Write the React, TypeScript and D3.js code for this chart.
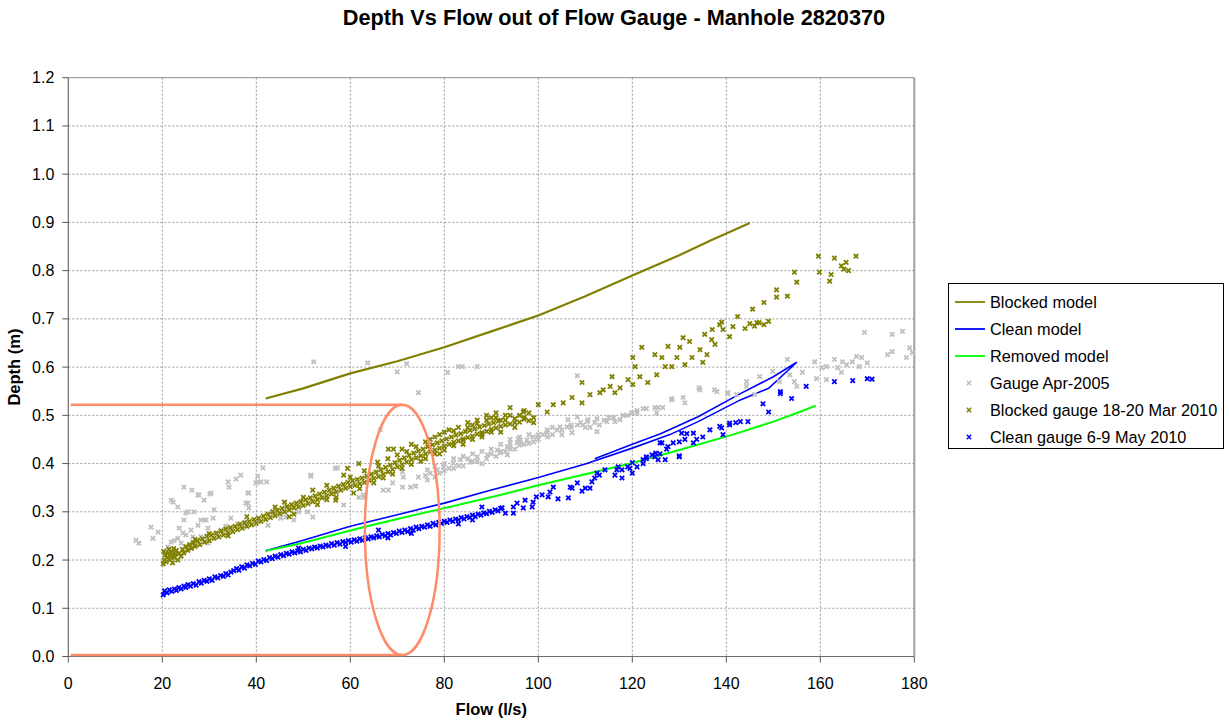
import React from "react";
import * as d3 from "d3";

type P = [number, number];

const titleText = "Depth Vs Flow out of Flow Gauge - Manhole 2820370";
const xTitle = "Flow (l/s)";
const yTitle = "Depth (m)";
const xTicks = [0, 20, 40, 60, 80, 100, 120, 140, 160, 180];
const yTicks = [0, 0.1, 0.2, 0.3, 0.4, 0.5, 0.6, 0.7, 0.8, 0.9, 1.0, 1.1, 1.2];

const blockedModel: P[] = [
  [42, 0.535], [50, 0.556], [60, 0.587], [70, 0.612], [80, 0.641], [90, 0.674],
  [100, 0.707], [110, 0.747], [120, 0.79], [130, 0.832], [137, 0.864], [145, 0.899],
];

const cleanModel: P[] = [
  [42, 0.219], [50, 0.241], [60, 0.27], [70, 0.294], [80, 0.318], [90, 0.345],
  [100, 0.371], [110, 0.399], [120, 0.432], [128, 0.46], [134, 0.487], [143, 0.532],
  [149, 0.556], [155, 0.61], [150, 0.58], [143, 0.545], [134, 0.497], [126, 0.462],
  [120, 0.44], [112, 0.41],
];

const removedModel: P[] = [
  [42, 0.219], [50, 0.236], [62.7, 0.268], [70, 0.285], [78.4, 0.304], [91.9, 0.335],
  [100, 0.355], [110, 0.378], [120, 0.401], [130, 0.428], [141.4, 0.46], [150, 0.487],
  [155.6, 0.507], [159, 0.52],
];

const gaugeApr2005: P[] = [
  [14.4, 0.241], [15, 0.235], [17.6, 0.268], [18, 0.245], [19.1, 0.258], [22.3, 0.32], [23.3, 0.31],
  [24.6, 0.351], [26.3, 0.345], [27.8, 0.335], [28.9, 0.324], [30.1, 0.337], [31, 0.304], [34, 0.362],
  [34.2, 0.351], [35.7, 0.368], [36.7, 0.376], [38.4, 0.339], [37.8, 0.318], [38.4, 0.308], [40.3, 0.374],
  [41.4, 0.391], [39.9, 0.36], [41, 0.362], [42.2, 0.362], [51.6, 0.376], [25.5, 0.3], [26.7, 0.3],
  [24.6, 0.283], [28.2, 0.283], [29.3, 0.283], [30.8, 0.287], [34.6, 0.287], [23.6, 0.266], [24.4, 0.256],
  [26.1, 0.262], [27.6, 0.272], [29.7, 0.266], [23.3, 0.245], [21.9, 0.237], [25, 0.252], [26.5, 0.248],
  [28.2, 0.248], [29.9, 0.252], [32.5, 0.262], [21.2, 0.227], [29.7, 0.235], [37.8, 0.279], [40.3, 0.283],
  [42.5, 0.272], [45.2, 0.287], [48, 0.283], [50.9, 0.3], [52, 0.289], [21.9, 0.324], [27.6, 0.335],
  [30.4, 0.339], [38.2, 0.339], [25, 0.297], [28.9, 0.283], [38.2, 0.318], [40.3, 0.362], [46.3, 0.289],
  [22.5, 0.24], [24, 0.235], [27, 0.232], [31.5, 0.255], [33.5, 0.27], [36, 0.275], [43.5, 0.3], [47, 0.31],
  [49, 0.3], [52.2, 0.611], [63.7, 0.609], [70, 0.59], [72, 0.607], [74.5, 0.547], [51.6, 0.374],
  [57.3, 0.391], [56.5, 0.339], [58.6, 0.314], [61.8, 0.33], [62.8, 0.335], [68.1, 0.345], [66.4, 0.47],
  [69, 0.36], [71.3, 0.372], [72.8, 0.351], [73.9, 0.353], [74.5, 0.372], [76.4, 0.366], [71.1, 0.383],
  [76.4, 0.387], [78.5, 0.387], [79.8, 0.393], [81.9, 0.401], [83.4, 0.408], [85.5, 0.403], [87, 0.414],
  [89.2, 0.418], [91.3, 0.428], [93.4, 0.435], [95.5, 0.443], [97.6, 0.449], [95.7, 0.451], [80.7, 0.589],
  [83, 0.601], [83.8, 0.601], [87, 0.601], [56.8, 0.39], [62.9, 0.33], [67, 0.345], [71.1, 0.351],
  [91.9, 0.422], [94, 0.435], [96.2, 0.443], [98.9, 0.455], [101.9, 0.464], [104, 0.47], [106.1, 0.476],
  [108.3, 0.48], [110.4, 0.487], [112.5, 0.466], [114.6, 0.487], [116.3, 0.487], [117.4, 0.491],
  [119.9, 0.505], [122.3, 0.514], [124.8, 0.516], [126.5, 0.516], [128.4, 0.535], [130.8, 0.537],
  [131.2, 0.526], [134.4, 0.553], [138, 0.549], [140.3, 0.545], [108.3, 0.582], [110.6, 0.491],
  [106.3, 0.491], [142.2, 0.543], [146, 0.543], [144.3, 0.56], [128.4, 0.532], [125.5, 0.516],
  [123, 0.514], [125.2, 0.505], [121, 0.505], [120, 0.505], [112.5, 0.493], [108.3, 0.497],
  [104.6, 0.476], [101.9, 0.47], [99.8, 0.455], [96.2, 0.449], [94, 0.443], [93.4, 0.418], [109.5, 0.48],
  [107.2, 0.464], [77, 0.38], [78, 0.395], [79, 0.38], [80, 0.4], [81, 0.39], [82, 0.41], [83, 0.395],
  [84, 0.415], [85, 0.41], [86, 0.42], [87, 0.405], [88, 0.425], [89, 0.41], [90, 0.43], [91, 0.415],
  [92, 0.44], [93, 0.425], [94, 0.45], [95, 0.43], [96, 0.455], [97, 0.44], [98, 0.46], [99, 0.445],
  [100, 0.46], [102, 0.455], [103, 0.475], [105, 0.46], [107, 0.48], [111, 0.475], [113, 0.48],
  [115, 0.495], [118, 0.5], [134.2, 0.557], [137.5, 0.553], [140.3, 0.547], [144.3, 0.57], [147.1, 0.58],
  [149.9, 0.591], [151.3, 0.57], [153, 0.616], [153.5, 0.584], [154.5, 0.57], [155, 0.56], [156.2, 0.589],
  [158.8, 0.611], [159.2, 0.576], [161.3, 0.574], [160.3, 0.599], [161.3, 0.601], [163, 0.616],
  [163.7, 0.599], [164.7, 0.611], [165.6, 0.605], [166.8, 0.611], [167.7, 0.622], [168.8, 0.62],
  [170, 0.609], [168.3, 0.601], [169.4, 0.672], [175.3, 0.668], [177.5, 0.674], [174.3, 0.626],
  [175.3, 0.632], [178.3, 0.62], [179.6, 0.63], [164.5, 0.589], [179, 0.64],
  [76, 0.375], [78, 0.372], [80, 0.385], [82, 0.39], [84, 0.395], [86, 0.405], [88, 0.4], [90, 0.42],
  [92, 0.425], [94, 0.43], [96, 0.438], [98, 0.442], [100, 0.45], [101, 0.46], [103, 0.46], [105, 0.47],
  [107, 0.475], [109, 0.485], [110, 0.475], [112, 0.485], [114, 0.49], [116, 0.495], [119, 0.5], [121, 0.51],
];

const blockedGauge: P[] = [
  [20.2, 0.192], [20.4, 0.2], [20.6, 0.21], [20.3, 0.218], [20.8, 0.196], [21, 0.205], [21.2, 0.214],
  [21.4, 0.222], [21.6, 0.2], [21.8, 0.208], [22, 0.216], [22.2, 0.194], [22.4, 0.224], [22.6, 0.205],
  [22.8, 0.212], [23, 0.22], [23.3, 0.2], [23.6, 0.214], [24, 0.208], [24.3, 0.222], [24.6, 0.215],
  [25, 0.228], [25.4, 0.22], [25.8, 0.232], [26.2, 0.224], [26.6, 0.236], [27, 0.228], [27.5, 0.24],
  [28, 0.232], [28.5, 0.244], [29, 0.237], [29.5, 0.249], [30, 0.24], [30.5, 0.252], [31, 0.245],
  [31.5, 0.256], [32, 0.248], [32.5, 0.26], [33, 0.252], [33.5, 0.264], [34, 0.256], [34.5, 0.267],
  [35, 0.259], [35.5, 0.27], [36, 0.263], [36.5, 0.274], [37, 0.266], [37.5, 0.277], [38, 0.27],
  [38.5, 0.28], [39, 0.273], [39.5, 0.284], [40, 0.276], [40.5, 0.287], [41, 0.28], [41.5, 0.291],
  [42, 0.284], [42.5, 0.295], [43, 0.288], [43.5, 0.3], [44, 0.292], [44.5, 0.303], [45, 0.296],
  [45.5, 0.307], [46, 0.3], [46.5, 0.311], [47, 0.304], [47.5, 0.315], [48, 0.308], [48.5, 0.318],
  [49, 0.31], [49.5, 0.321], [50, 0.313], [50.5, 0.325], [51, 0.317], [51.5, 0.329], [52, 0.321],
  [52.5, 0.333], [53, 0.325], [53.5, 0.337], [54, 0.329], [54.5, 0.341], [55, 0.333], [55.5, 0.345],
  [56, 0.337], [56.5, 0.349], [57, 0.341], [57.5, 0.353], [58, 0.345], [58.5, 0.357], [59, 0.349],
  [59.5, 0.361], [60, 0.352], [60.5, 0.364], [61, 0.355], [61.5, 0.367], [62, 0.358], [62.5, 0.37],
  [63, 0.361], [63.5, 0.374], [64, 0.365], [64.5, 0.378], [65, 0.369], [65.5, 0.382], [66, 0.373],
  [66.5, 0.387], [67, 0.378], [67.5, 0.392], [68, 0.383], [68.5, 0.397], [69, 0.388], [69.5, 0.402],
  [70, 0.393], [70.5, 0.407], [71, 0.398], [71.5, 0.412], [72, 0.403], [72.5, 0.417], [73, 0.408],
  [73.5, 0.422], [74, 0.412], [74.5, 0.426], [75, 0.416], [75.5, 0.43], [76, 0.42], [76.5, 0.435],
  [77, 0.424], [77.5, 0.439], [78, 0.428], [78.5, 0.443], [79, 0.432], [79.5, 0.447], [80, 0.436],
  [80.5, 0.451], [81, 0.44], [81.5, 0.455], [82, 0.444], [82.5, 0.459], [83, 0.447], [83.5, 0.462],
  [84, 0.451], [84.5, 0.466], [85, 0.454], [85.5, 0.469], [86, 0.457], [86.5, 0.472], [87, 0.461],
  [87.5, 0.476], [88, 0.464], [88.5, 0.479], [89, 0.467], [89.5, 0.482], [90, 0.471], [90.5, 0.485],
  [91, 0.474], [91.5, 0.488], [92, 0.477], [93, 0.49], [94, 0.482], [95, 0.493], [96, 0.486],
  [97, 0.496], [98, 0.489], [68.1, 0.43], [69.2, 0.43], [65.8, 0.403], [61.8, 0.4], [59.4, 0.39],
  [58.6, 0.376], [56.9, 0.324], [60.7, 0.339], [94, 0.516], [96.8, 0.507], [100, 0.522], [101.9, 0.507],
  [103.2, 0.522], [105.3, 0.526], [107.2, 0.537], [109.3, 0.568], [109.3, 0.526], [111, 0.543],
  [113.1, 0.547], [113.8, 0.553], [115.3, 0.56], [116.3, 0.547], [117.4, 0.557], [115.7, 0.58],
  [119.1, 0.574], [120.1, 0.62], [120.6, 0.601], [120.1, 0.564], [121.6, 0.58], [122, 0.641],
  [123.3, 0.568], [124.8, 0.626], [125.2, 0.584], [126.3, 0.62], [127, 0.601], [127.6, 0.643],
  [128.4, 0.601], [129.5, 0.62], [130.1, 0.641], [130.8, 0.661], [131.2, 0.605], [132.2, 0.653],
  [132.7, 0.62], [134.4, 0.636], [135.4, 0.668], [135.9, 0.626], [136.9, 0.657], [137.6, 0.647],
  [138.6, 0.688], [139.3, 0.678], [140.7, 0.663], [141.4, 0.684], [142.4, 0.705], [139, 0.693],
  [137, 0.678], [135, 0.61], [144, 0.68], [145, 0.69], [146, 0.685], [147, 0.692], [148, 0.688],
  [149, 0.695], [146.5, 0.692], [145.6, 0.72], [148, 0.734], [150.7, 0.76], [150.7, 0.745], [153, 0.747],
  [155, 0.776], [154.5, 0.797], [159.6, 0.83], [159.8, 0.797], [162.3, 0.792], [162, 0.778],
  [165.5, 0.817], [165, 0.803], [167.6, 0.83], [164.5, 0.81], [166, 0.8], [163, 0.826], [71, 0.43],
  [73, 0.44], [75, 0.405], [76, 0.445], [78, 0.455], [79, 0.42], [82, 0.468], [84, 0.44], [86, 0.48],
  [88, 0.455], [90, 0.495], [92, 0.465], [93, 0.5], [95, 0.475], [97, 0.51], [99, 0.485], [80, 0.465],
  [85, 0.475], [87, 0.49], [89, 0.5], [91, 0.505], [44, 0.31], [47, 0.29], [52, 0.345], [55, 0.325],
  [38, 0.29], [34, 0.25], [30, 0.255], [27, 0.243],
  [46, 0.32], [48, 0.295], [50, 0.33], [53, 0.315], [55, 0.355], [57, 0.33], [60, 0.372], [62, 0.348],
  [63, 0.385], [65, 0.36], [66, 0.395], [67, 0.37], [68, 0.41], [69, 0.378], [70, 0.418], [71, 0.39],
  [72, 0.425], [73, 0.398], [74, 0.435], [76, 0.41], [77, 0.45], [78, 0.42], [79, 0.46], [80, 0.428],
  [81, 0.47], [82, 0.437], [83, 0.475], [84, 0.448], [85, 0.485], [86, 0.45], [87, 0.483], [88, 0.46],
  [89, 0.49], [90, 0.465], [91, 0.495], [92, 0.49], [93, 0.48], [94, 0.5], [95, 0.485], [96, 0.5],
  [97, 0.492], [98, 0.505], [99, 0.495],
];

const cleanGauge: P[] = [
  [20.2, 0.128], [20.5, 0.136], [21, 0.132], [21.5, 0.138], [22, 0.135], [22.6, 0.14], [23, 0.137],
  [23.5, 0.143], [24, 0.14], [24.6, 0.146], [25, 0.143], [25.5, 0.149], [26, 0.146], [26.6, 0.151],
  [27.2, 0.148], [27.8, 0.155], [28.3, 0.152], [28.9, 0.158], [29.5, 0.156], [30, 0.161], [30.6, 0.158],
  [31.2, 0.165], [31.8, 0.163], [32.4, 0.168], [33, 0.166], [33.5, 0.172], [34, 0.169], [34.6, 0.175],
  [35.2, 0.178], [35.8, 0.182], [36.3, 0.179], [36.9, 0.186], [37.5, 0.183], [38, 0.19], [38.6, 0.188],
  [39.2, 0.193], [39.8, 0.191], [40.4, 0.198], [41, 0.196], [41.6, 0.201], [42.2, 0.199], [42.8, 0.205],
  [43.4, 0.203], [44, 0.208], [44.6, 0.206], [45.2, 0.211], [45.8, 0.209], [46.4, 0.214], [47, 0.212],
  [47.6, 0.217], [48.2, 0.215], [48.8, 0.219], [49.4, 0.217], [50, 0.222], [50.6, 0.22], [51.2, 0.225],
  [51.8, 0.223], [52.4, 0.227], [53, 0.225], [53.6, 0.229], [54.2, 0.227], [54.8, 0.231], [55.4, 0.229],
  [56, 0.234], [56.6, 0.231], [57.2, 0.236], [57.8, 0.233], [58.4, 0.238], [59, 0.236], [59.6, 0.24],
  [60.2, 0.237], [60.8, 0.242], [61.4, 0.239], [62, 0.244], [62.6, 0.241], [63.2, 0.246], [63.8, 0.244],
  [64.4, 0.248], [65, 0.246], [65.6, 0.25], [66.2, 0.248], [66.8, 0.253], [67.4, 0.25], [68, 0.255],
  [68.6, 0.252], [69.2, 0.257], [69.8, 0.255], [70.4, 0.26], [71, 0.257], [71.6, 0.262], [72.2, 0.259],
  [72.8, 0.265], [73.4, 0.262], [74, 0.268], [74.6, 0.265], [75.2, 0.27], [75.8, 0.268], [76.4, 0.273],
  [77, 0.27], [77.6, 0.276], [78.2, 0.273], [78.8, 0.278], [79.4, 0.276], [80, 0.28], [80.6, 0.278],
  [81.2, 0.283], [81.8, 0.28], [82.4, 0.285], [83, 0.283], [83.6, 0.288], [84.2, 0.285], [84.8, 0.29],
  [85.4, 0.288], [86, 0.293], [86.6, 0.29], [87.2, 0.295], [87.8, 0.293], [88.4, 0.298], [89, 0.296],
  [89.6, 0.301], [90.2, 0.299], [90.8, 0.304], [91.4, 0.302], [92, 0.307], [59, 0.228], [66, 0.262],
  [73, 0.255], [83, 0.275], [86, 0.283], [88, 0.31], [49, 0.225], [68, 0.246], [92.3, 0.308], [93, 0.297],
  [94.7, 0.31], [94.7, 0.297], [95.5, 0.318], [96.8, 0.308], [97.2, 0.324], [98.7, 0.31], [98.9, 0.32],
  [99.6, 0.331], [100.8, 0.335], [102.1, 0.331], [102.5, 0.341], [103.2, 0.351], [104.2, 0.327],
  [106.4, 0.329], [106.8, 0.351], [107.2, 0.349], [108.3, 0.36], [109.3, 0.343], [110, 0.349],
  [111, 0.349], [111.4, 0.362], [112, 0.37], [112.5, 0.38], [113, 0.376], [114.2, 0.387], [116.3, 0.376],
  [116.7, 0.387], [117, 0.393], [117.8, 0.37], [117.8, 0.387], [119, 0.393], [119.5, 0.39], [120, 0.38],
  [120, 0.402], [121, 0.393], [122.3, 0.408], [122.3, 0.4], [123, 0.41], [123, 0.414], [124.2, 0.418],
  [124.8, 0.414], [125, 0.422], [125.5, 0.408], [125.9, 0.42], [125.9, 0.443], [126.3, 0.443],
  [127, 0.408], [127.3, 0.43], [127.6, 0.435], [128.7, 0.443], [130, 0.414], [130, 0.445], [130, 0.416],
  [130.5, 0.463], [131.2, 0.45], [131.6, 0.462], [133, 0.463], [133, 0.443], [133.7, 0.45], [135, 0.455],
  [136.5, 0.47], [138.6, 0.477], [139, 0.474], [139.3, 0.46], [140.7, 0.484], [140.7, 0.48], [142, 0.485],
  [143, 0.487], [144.6, 0.487], [147.8, 0.524], [149, 0.507], [151.5, 0.549], [151.5, 0.545],
  [153.9, 0.535], [157, 0.56], [163, 0.57], [166.9, 0.572], [170, 0.576], [171, 0.575],
];

const annFlow = 71.05;
const annHalfWidth = 7.95;
const annDepth = 0.522;

const FONT = "'Liberation Sans', Arial, sans-serif";
const ORANGE = "#FF8C69";

const legendItems = [
  { label: "Blocked model", kind: "line", color: "#808000" },
  { label: "Clean model", kind: "line", color: "#0000FF" },
  { label: "Removed model", kind: "line", color: "#00FF00" },
  { label: "Gauge Apr-2005", kind: "mark", color: "#C0C0C0" },
  { label: "Blocked gauge 18-20 Mar 2010", kind: "mark", color: "#808000" },
  { label: "Clean gauge 6-9 May 2010", kind: "mark", color: "#0000FF" },
];

const xPath = "M-2.2,-2.2L2.2,2.2M-2.2,2.2L2.2,-2.2";

export default function App() {
  const x = d3.scaleLinear().domain([0, 180]).range([68.3, 914.3]);
  const y = d3.scaleLinear().domain([0, 1.2]).range([656.5, 77.7]);
  const line = d3
    .line<P>()
    .x((d) => x(d[0]))
    .y((d) => y(d[1]));

  const marks = (data: P[], color: string) =>
    data.map((d, i) => (
      <path
        key={i}
        d={xPath}
        transform={`translate(${x(d[0]).toFixed(1)},${y(d[1]).toFixed(1)})`}
        stroke={color}
        strokeWidth={1.8}
        fill="none"
      />
    ));

  const x0 = x(0), x1 = x(180), y0 = y(0), y1 = y(1.2);
  const cx = x(annFlow);
  const rx = x(annFlow + annHalfWidth) - cx;
  const topY = y(annDepth);
  const botY = y(0.003);

  return (
    <svg
      width={1229}
      height={721}
      style={{ position: "absolute", left: 0, top: 0, background: "#fff" }}
      fontFamily={FONT}
    >
      <rect x={0} y={0} width={1229} height={721} fill="#fff" />
      <text x={614} y={25} textAnchor="middle" fontWeight="bold" fontSize={21.7}>
        {titleText}
      </text>

      {/* grid */}
      {xTicks.slice(1, -1).map((t) => (
        <line key={"gx" + t} x1={x(t)} x2={x(t)} y1={y1} y2={y0} stroke="#9a9a9a" strokeDasharray="2,2" strokeWidth={1} />
      ))}
      {yTicks.slice(1, -1).map((t) => (
        <line key={"gy" + t} x1={x0} x2={x1} y1={y(t)} y2={y(t)} stroke="#9a9a9a" strokeDasharray="2,2" strokeWidth={1} />
      ))}
      {/* border */}
      <line x1={x0} x2={x1} y1={y1} y2={y1} stroke="#8c8c8c" strokeWidth={1} />
      <line x1={x1} x2={x1} y1={y1} y2={y0} stroke="#a0a0a0" strokeWidth={2} />

      {/* series */}
      <path d={line(blockedModel) || ""} fill="none" stroke="#808000" strokeWidth={2.2} />
      <path d={line(cleanModel) || ""} fill="none" stroke="#0000FF" strokeWidth={1.6} />
      <path d={line(removedModel) || ""} fill="none" stroke="#00FF00" strokeWidth={2} />
      <g>{marks(gaugeApr2005, "#C0C0C0")}</g>
      <g>{marks(blockedGauge, "#808000")}</g>
      <g>{marks(cleanGauge, "#0000FF")}</g>

      {/* axes */}
      <line x1={x0} x2={x0} y1={y1} y2={y0} stroke="#6e6e6e" strokeWidth={1.2} />
      <line x1={x0} x2={x1} y1={y0} y2={y0} stroke="#6e6e6e" strokeWidth={1.2} />
      {yTicks.map((t) => (
        <g key={"yt" + t}>
          <line x1={x0 - 6} x2={x0} y1={y(t)} y2={y(t)} stroke="#555" />
          <text x={x0 - 14} y={y(t) + 5.5} textAnchor="end" fontSize={16}>
            {t.toFixed(1)}
          </text>
        </g>
      ))}
      {xTicks.map((t) => (
        <g key={"xt" + t}>
          <line x1={x(t)} x2={x(t)} y1={y0} y2={y0 + 6} stroke="#555" />
          <text x={x(t)} y={y0 + 32} textAnchor="middle" fontSize={16}>
            {t}
          </text>
        </g>
      ))}
      <text x={(x0 + x1) / 2} y={715} textAnchor="middle" fontWeight="bold" fontSize={16.5}>
        {xTitle}
      </text>
      <text
        transform={`translate(20,${(y0 + y1) / 2}) rotate(-90)`}
        textAnchor="middle"
        fontWeight="bold"
        fontSize={16.5}
      >
        {yTitle}
      </text>

      {/* annotation */}
      <line x1={x(0.5)} x2={cx} y1={topY} y2={topY} stroke={ORANGE} strokeWidth={2.5} />
      <line x1={x(0.5)} x2={cx} y1={botY} y2={botY} stroke={ORANGE} strokeWidth={2.5} />
      <ellipse cx={cx} cy={(topY + botY) / 2} rx={rx} ry={(botY - topY) / 2} fill="none" stroke={ORANGE} strokeWidth={2.5} />

      {/* legend */}
      <rect x={948.5} y={283.5} width={275} height={165} fill="#fff" stroke="#000" strokeWidth={1} />
      {legendItems.map((it, i) => {
        const cy = 302 + i * 27;
        return (
          <g key={it.label}>
            {it.kind === "line" ? (
              <line x1={955} x2={985} y1={cy} y2={cy} stroke={it.color} strokeWidth={1.8} />
            ) : (
              <path d={xPath} transform={`translate(969,${cy})`} stroke={it.color} strokeWidth={1.4} fill="none" />
            )}
            <text x={990} y={cy + 5.5} fontSize={16.3}>
              {it.label}
            </text>
          </g>
        );
      })}
    </svg>
  );
}
